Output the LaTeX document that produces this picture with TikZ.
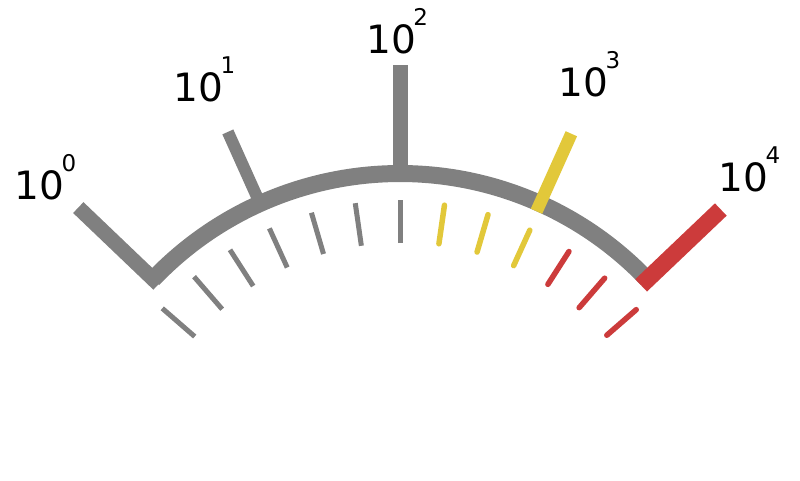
\documentclass[tikz,border=0pt]{standalone}
\usepackage{fontspec}
\setmainfont{DejaVu Sans}
\definecolor{gg}{RGB}{128,128,128}
\definecolor{yy}{RGB}{226,200,58}
\definecolor{rr}{RGB}{204,59,59}
\newcommand{\gsup}[1]{\kern-2.8pt\raisebox{28pt}{\fontsize{23}{23}\selectfont #1}}
\begin{document}
\begin{tikzpicture}[x=1pt,y=1pt,
  arcline/.style={draw=gg,line width=17pt},
  majortick/.style={line width=#1,line cap=butt},
  minorgray/.style={draw=gg,line width=5pt,line cap=butt},
  minorcol/.style={line width=5.5pt,line cap=round},
  lab/.style={anchor=base west,inner sep=0pt,font=\fontsize{39}{39}\selectfont}]
\useasboundingbox[fill=white] (0,0) rectangle (800,480);
\coordinate (C) at (400,-35);
% main arc
\draw[arcline] ([shift={(C)}]136.3:341.5) arc[start angle=136.3,end angle=43.6,radius=341.5];
% major ticks
\draw[majortick=15pt,draw=gg] ([shift={(C)}]136.3:334) -- ([shift={(C)}]136.3:445);
\draw[majortick=12pt,draw=gg] ([shift={(C)}]114.2:336) -- ([shift={(C)}]114.2:420);
\draw[majortick=15pt,draw=gg] ([shift={(C)}]90:336) -- ([shift={(C)}]90:450);
\draw[majortick=12.5pt,draw=yy] ([shift={(C)}]65.8:333) -- ([shift={(C)}]65.8:418);
\draw[majortick=17pt,draw=rr] ([shift={(C)}]43.6:333) -- ([shift={(C)}]43.6:443);
% minor ticks
\foreach \k [evaluate=\k as \a using 90-\k*8.1667] in {-6,...,0}
  \draw[minorgray] ([shift={(C)}]\a:272) -- ([shift={(C)}]\a:315);
\foreach \k [evaluate=\k as \a using 90-\k*8.1667] in {1,2,3}
  \draw[minorcol,draw=yy] ([shift={(C)}]\a:274) -- ([shift={(C)}]\a:313);
\foreach \k [evaluate=\k as \a using 90-\k*8.1667] in {4,5,6}
  \draw[minorcol,draw=rr] ([shift={(C)}]\a:274) -- ([shift={(C)}]\a:313);
% labels
\node[lab] (l0) at (14.7,280) {10\gsup{0}};
\node[lab] (l1) at (173.7,378.3) {10\gsup{1}};
\node[lab] (l2) at (366.4,426.7) {10\gsup{2}};
\node[lab] (l3) at (558.7,383) {10\gsup{3}};
\node[lab] (l4) at (718.7,288) {10\gsup{4}};
\end{tikzpicture}
\end{document}
